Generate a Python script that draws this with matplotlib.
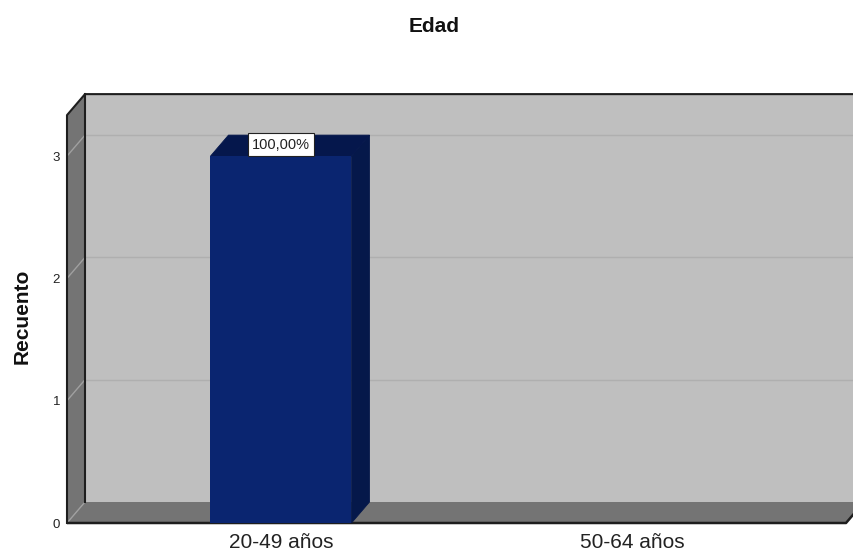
import matplotlib
matplotlib.use('Agg')
import matplotlib.pyplot as plt

plt.rcParams['font.family'] = ['Liberation Sans', 'DejaVu Sans']

categories = ['20-49 años', '50-64 años']
counts = [3, 0]
percents = ['100,00%', None]
y_ticks = [0, 1, 2, 3]

W, H = 854, 551
PX_X = 351.0    # pixels per category
PX_Y = 122.3    # pixels per count
DX = 18 / PX_X  # depth of the 3D box
DY = 21 / PX_Y
BAR_W = 141 / PX_X
WALL_TOP = 3.335

DARK = '#1e1e1e'
WALL = '#bfbfbf'
SHADE = '#747474'
GRID = '#afafaf'
BAR_FRONT = '#0a2570'
BAR_SIDE = '#05184a'
BAR_TOP = '#05174c'

fig = plt.figure(figsize=(W / 100, H / 100), dpi=100)
ax = fig.add_axes([0, 0, 1, 1])
# first category sits at x=0, y=0 is the front floor edge
ax.set_xlim(-281 / PX_X, (W - 281) / PX_X)
ax.set_ylim(-(H - 523) / PX_Y, 523 / PX_Y)
ax.axis('off')

x0 = -214 / PX_X
x1 = 565 / PX_X
xr = (W + 20 - 281) / PX_X

# back wall, left wall, floor
ax.fill([x0 + DX, xr, xr, x0 + DX], [DY, DY, WALL_TOP + DY, WALL_TOP + DY], color=WALL, lw=0, zorder=1)
ax.fill([x0, x0 + DX, x0 + DX, x0], [0, DY, WALL_TOP + DY, WALL_TOP], color=SHADE, lw=0, zorder=1)
ax.fill([x0, x1, x1 + DX, x0 + DX], [0, 0, DY, DY], color=SHADE, lw=0, zorder=1)

# gridlines run along the left wall and then the back wall
for t in y_ticks:
    ax.plot([x0, x0 + DX], [t, t + DY], color='#a0a0a0', lw=1, zorder=2)
    if t > 0:
        ax.plot([x0 + DX, xr], [t + DY, t + DY], color=GRID, lw=1, zorder=2)
    ax.text(x0 - 7 / PX_X, t - 1.5 / PX_Y, str(t), ha='right', va='center', fontsize=9.5, color='#222222', zorder=6)

# box outline
ax.plot([x0, x0, x0 + DX, xr], [0, WALL_TOP, WALL_TOP + DY, WALL_TOP + DY], color=DARK, lw=1.5, zorder=3)
ax.plot([x0 + DX, x0 + DX], [DY, WALL_TOP + DY], color=DARK, lw=1.5, zorder=3)
ax.plot([x0, x1, x1 + DX], [0, 0, DY], color=DARK, lw=1.8, zorder=3, solid_capstyle='butt')

for i, (c, p) in enumerate(zip(counts, percents)):
    if c <= 0:
        continue
    left = i - BAR_W / 2
    right = left + BAR_W
    ax.fill([right, right + DX, right + DX, right], [0, DY, c + DY, c], color=BAR_SIDE, lw=0.6, zorder=4)
    ax.fill([left, right, right + DX, left + DX], [c, c, c + DY, c + DY], color=BAR_TOP, lw=0.6, zorder=4)
    ax.bar(i, c, width=BAR_W, color=BAR_FRONT, lw=0, zorder=4.5)
    ax.text(i, c + DY / 2 + 1 / PX_Y, p, ha='center', va='center', fontsize=10.5, color='#222222', zorder=5,
            bbox=dict(boxstyle='square,pad=0.3', fc='white', ec='#222222', lw=0.8))

for i, name in enumerate(categories):
    ax.text(i, -20 / PX_Y, name, ha='center', va='center', fontsize=15, color='#222222')

fig.text(434 / W, 1 - 27 / H, 'Edad', ha='center', va='center', fontsize=15, fontweight='bold', color='#111111')
fig.text(22 / W, 1 - 316 / H, 'Recuento', ha='center', va='center', rotation=90, fontsize=15, fontweight='bold', color='#111111')

fig.savefig('out.png', dpi=100)
